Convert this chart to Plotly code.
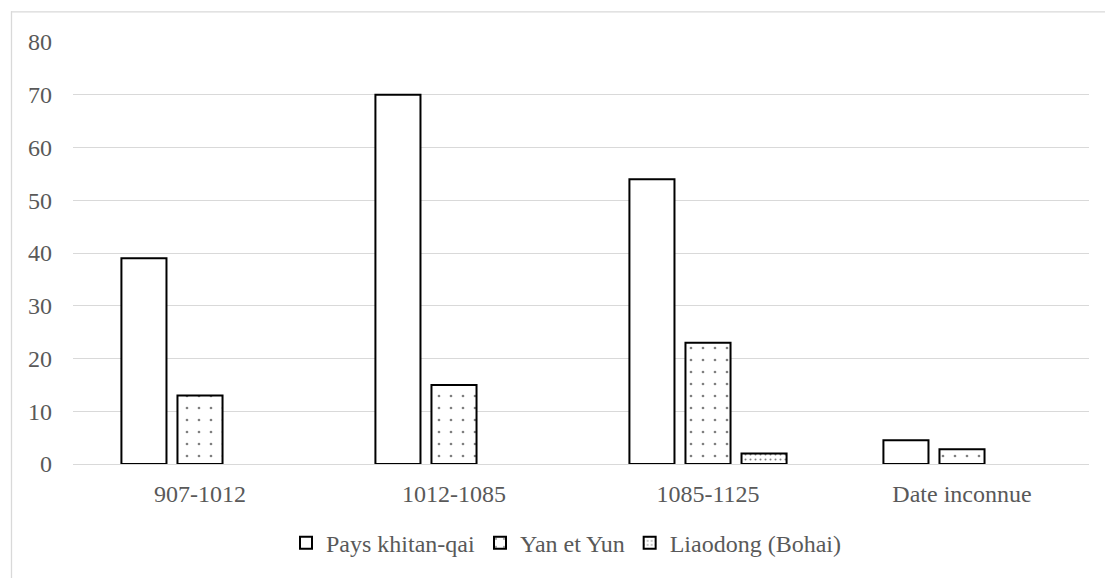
import plotly.graph_objects as go

categories = ["907-1012", "1012-1085", "1085-1125", "Date inconnue"]
series_names = ["Pays khitan-qai", "Yan et Yun", "Liaodong (Bohai)"]
pays_khitan = [39, 70, 54, 4.5]
yan_yun = [13, 15, 23, 2.8]
liaodong = [None, None, 2, None]
y_ticks = [0, 10, 20, 30, 40, 50, 60, 70, 80]

W, H = 1105, 578
L, R, T, B = 73, 16, 42, 110
pw, ph = W - L - R, H - T - B

FONT = "Liberation Serif"
GREY = "#595959"
FS = 24

fig = go.Figure()
patterns = [
    dict(shape=""),
    dict(shape=".", size=12, solidity=0.04, fgcolor="black", bgcolor="white", fillmode="overlay"),
    dict(shape=".", size=5, solidity=0.13, fgcolor="black", bgcolor="white", fillmode="overlay"),
]
for name, vals, pat in zip(series_names, [pays_khitan, yan_yun, liaodong], patterns):
    fig.add_trace(go.Bar(
        x=categories, y=vals, name=name,
        marker=dict(color="white", line=dict(color="black", width=2), pattern=pat),
    ))

def px_x(px):
    return (px - L) / pw

def px_y(py):
    return (H - B - py) / ph

# outer chart border (left and top visible)
fig.add_shape(type="line", xref="paper", yref="paper",
              x0=px_x(11.5), x1=px_x(11.5), y0=px_y(11), y1=px_y(590),
              line=dict(color="#d9d9d9", width=1.3))
fig.add_shape(type="line", xref="paper", yref="paper",
              x0=px_x(11), x1=px_x(1120), y0=px_y(11.5), y1=px_y(11.5),
              line=dict(color="#d9d9d9", width=1.3))

fig.update_layout(
    width=W, height=H,
    margin=dict(l=L, r=R, t=T, b=B),
    paper_bgcolor="white", plot_bgcolor="white",
    barmode="group", bargap=0.338, bargroupgap=0.196,
    font=dict(family=FONT, size=FS, color=GREY),
    showlegend=True,
    legend=dict(orientation="h", x=px_x(566), xanchor="center", y=px_y(548), yanchor="middle",
                font=dict(family=FONT, size=FS, color=GREY), itemwidth=30,
                traceorder="normal", bgcolor="rgba(0,0,0,0)"),
    xaxis=dict(showgrid=False, zeroline=False, showline=False, ticks="",
               ticklabelstandoff=13,
               tickfont=dict(family=FONT, size=FS, color=GREY)),
    yaxis=dict(range=[0, 80], tickvals=y_ticks, showgrid=True, gridcolor="#d9d9d9",
               gridwidth=1, zeroline=True, zerolinecolor="#d9d9d9", zerolinewidth=1,
               showline=False, ticks="", ticklabelstandoff=20,
               tickfont=dict(family=FONT, size=FS, color=GREY)),
)

fig.write_html("out.html", config={"displayModeBar": False},
               post_script="document.body.style.margin='0px';")
